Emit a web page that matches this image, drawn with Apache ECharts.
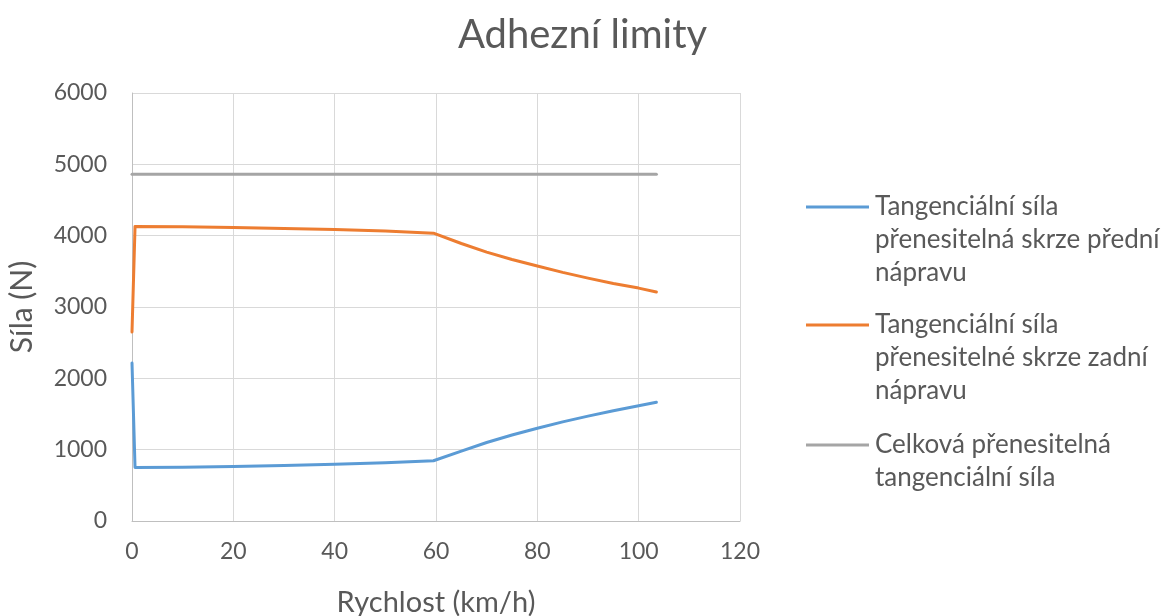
<!DOCTYPE html>
<html>
<head>
<meta charset="utf-8">
<script src="https://cdn.jsdelivr.net/npm/echarts@6/dist/echarts.min.js"></script>
<style>
  html, body { margin: 0; padding: 0; background: #fff; overflow: hidden; }
  #chart { width: 1165px; height: 616px; }
</style>
</head>
<body>
<div id="chart"></div>
<script>
// Speeds (km/h) at which the forces were evaluated
const speeds = [0, 0.6, 10, 20, 30, 40, 50, 59.5, 65, 70, 75, 80, 85, 90, 95, 100, 103.5];
// Tractive force transferable through the front axle (N)
const frontAxle = [2215, 750, 755, 765, 778, 795, 815, 845, 980, 1100, 1205, 1300, 1390, 1470, 1545, 1615, 1665];
// Tractive force transferable through the rear axle (N)
const rearAxle = [2650, 4130, 4125, 4115, 4100, 4085, 4065, 4035, 3890, 3770, 3665, 3575, 3485, 3405, 3330, 3265, 3210];
// Total transferable tractive force (N)
const totalForce = [4860, 4860, 4860, 4860, 4860, 4860, 4860, 4860, 4860, 4860, 4860, 4860, 4860, 4860, 4860, 4860, 4860];

const seriesNames = [
  'Tangenciální síla\npřenesitelná skrze přední\nnápravu',
  'Tangenciální síla\npřenesitelné skrze zadní\nnápravu',
  'Celková přenesitelná\ntangenciální síla'
];
const seriesColors = ['#5B9BD5', '#ED7D31', '#A5A5A5'];
const seriesValues = [frontAxle, rearAxle, totalForce];

const FONT = 'Lato, "Liberation Sans", sans-serif';
const TEXT = '#595959';

const chart = echarts.init(document.getElementById('chart'));

// Legend drawn as line swatches beside wrapped labels
const legendTop = [207, 325, 445];
const legendGraphics = [];
seriesNames.forEach((name, i) => {
  legendGraphics.push({
    type: 'line',
    shape: { x1: 806, y1: legendTop[i], x2: 869, y2: legendTop[i] },
    style: { stroke: seriesColors[i], lineWidth: 3 }
  });
  legendGraphics.push({
    type: 'text',
    x: 875,
    y: legendTop[i] - 16.5,
    style: {
      text: name,
      fill: TEXT,
      font: '26px ' + FONT,
      lineHeight: 33,
      verticalAlign: 'top'
    }
  });
});

chart.setOption({
  animation: false,
  backgroundColor: '#fff',
  title: {
    text: 'Adhezní limity',
    left: 'center',
    top: 10,
    textStyle: { fontFamily: FONT, fontSize: 40, fontWeight: 'normal', color: TEXT }
  },
  grid: { left: 132, right: 425, top: 93, bottom: 95, outerBoundsMode: 'none', containLabel: false },
  xAxis: {
    type: 'value',
    min: 0, max: 120, interval: 20,
    name: 'Rychlost (km/h)',
    nameLocation: 'middle',
    nameGap: 67,
    nameTextStyle: { fontFamily: FONT, fontSize: 29, color: TEXT },
    axisLine: { show: true, lineStyle: { color: '#BFBFBF', width: 1 } },
    axisTick: { show: false },
    axisLabel: { fontFamily: FONT, fontSize: 23, color: TEXT, margin: 19 },
    splitLine: { show: true, lineStyle: { color: '#D9D9D9', width: 1 } }
  },
  yAxis: {
    type: 'value',
    min: 0, max: 6000, interval: 1000,
    name: 'Síla (N)',
    nameLocation: 'middle',
    nameGap: 95,
    nameRotate: 90,
    nameTextStyle: { fontFamily: FONT, fontSize: 30, color: TEXT },
    axisLine: { show: true, lineStyle: { color: '#BFBFBF', width: 1 } },
    axisTick: { show: false },
    axisLabel: { fontFamily: FONT, fontSize: 23, color: TEXT, margin: 25, formatter: v => String(v) },
    splitLine: { show: true, lineStyle: { color: '#D9D9D9', width: 1 } }
  },
  series: seriesValues.map((vals, i) => ({
    name: seriesNames[i],
    type: 'line',
    showSymbol: false,
    smooth: false,
    lineStyle: { color: seriesColors[i], width: 3, cap: 'round', join: 'round' },
    itemStyle: { color: seriesColors[i] },
    data: speeds.map((s, k) => [s, vals[k]]),
    z: 3 - i
  })),
  graphic: legendGraphics
});
</script>
</body>
</html>
